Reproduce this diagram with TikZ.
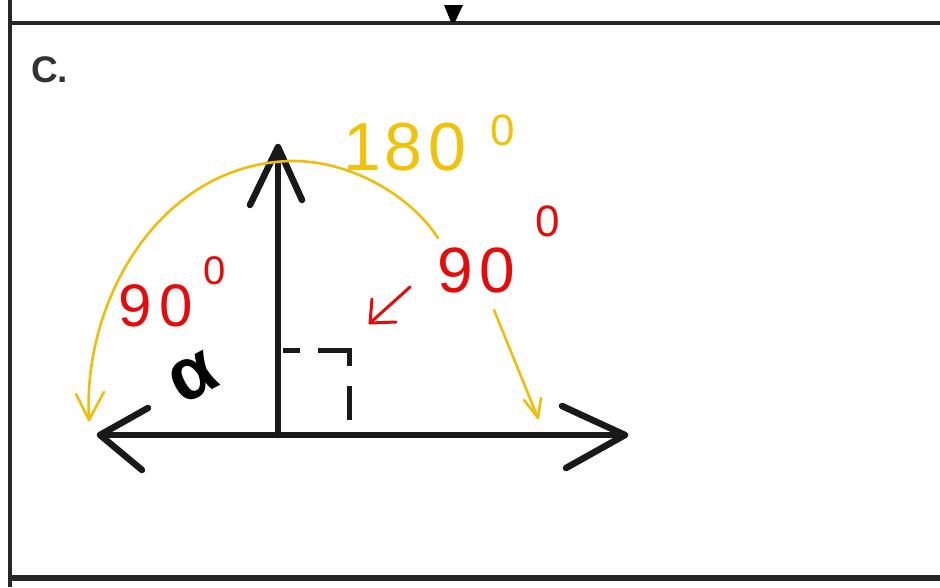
\documentclass[tikz,border=0pt]{standalone}
\usepackage{fontspec}
\setmainfont{Liberation Sans}
\begin{document}
\begin{tikzpicture}[x=1pt,y=-1pt,
  blk/.style={line width=6.5pt,line cap=round,line join=round,black!90},
  frame/.style={line width=4.5pt,black!85},
  yel/.style={line width=2.6pt,line cap=round,line join=round,draw={rgb,255:red,240;green,190;blue,10}},
  redl/.style={line width=3pt,line cap=round,line join=round,draw={rgb,255:red,230;green,10;blue,10}},
  redt/.style={text={rgb,255:red,230;green,10;blue,10},inner sep=0pt},
  yelt/.style={text={rgb,255:red,240;green,195;blue,10},inner sep=0pt}]
\useasboundingbox (0,0) rectangle (940,587);
% frame
\draw[frame] (10,0) -- (10,587);
\draw[frame] (8,23) -- (940,23);
\draw[frame,line width=5.5pt] (8,578) -- (940,578);
\fill[black] (444,5) -- (463,5) -- (455,22) -- (451,22) -- cycle;
\node[anchor=base west,inner sep=0pt,text=black!80,font=\bfseries\fontsize{37}{37}\selectfont] (lbl) at (31,82) {C.};
% axes
\coordinate (L) at (100,435);
\coordinate (R) at (625,435);
\coordinate (O) at (278,435);
\coordinate (T) at (278,147);
\draw[blk] (L) -- (R);
\draw[blk] (148,408) -- (L) -- (142,470);
\draw[blk] (562,406) -- (R) -- (566,468);
\draw[blk] (O) -- (T);
\draw[blk] (250,205) -- (T) -- (302,200);
% right angle mark
\draw[blk,line width=5pt,line cap=butt] (283,350) -- (300,350);
\draw[blk,line width=5pt,line cap=butt,line join=miter] (318,350) -- (349,350) -- (349,366);
\draw[blk,line width=5pt,line cap=butt] (349,386) -- (349,420);
% alpha
\node[rotate=28,inner sep=0pt,font=\bfseries\fontsize{74}{74}\selectfont] (alpha) at (193,378) {α};
% yellow arc
\draw[yel] (89,420) .. controls (82,300) and (160,165) .. (290,161) .. controls (350,160) and (410,195) .. (438,238);
\draw[yel] (76,394) -- (89,420) -- (104,392);
\draw[yel] (494,310) -- (538,418);
\draw[yel] (524,400) -- (538,418) -- (541,398);
\node[yelt,anchor=base west,font=\fontsize{68}{68}\selectfont] (t180) at (343,170) {1\kern4pt8\kern6pt0};
\node[yelt,anchor=base west,font=\fontsize{44}{44}\selectfont] (t180d) at (490,145) {0};
% red labels
\node[redt,anchor=base west,font=\fontsize{60}{60}\selectfont] (t90a) at (118,326) {9\kern8pt0};
\node[redt,anchor=base west,font=\fontsize{40}{40}\selectfont] (t90ad) at (203,284) {0};
\node[redt,anchor=base west,font=\fontsize{64}{64}\selectfont] (t90b) at (437,292) {9\kern7pt0};
\node[redt,anchor=base west,font=\fontsize{44}{44}\selectfont] (t90bd) at (535,236) {0};
% red arrow
\coordinate (ra1) at (410,287);
\coordinate (ra2) at (370,323);
\draw[redl] (ra1) -- (ra2);
\draw[redl] (372,299) -- (ra2) -- (396,322);
\end{tikzpicture}
\end{document}
